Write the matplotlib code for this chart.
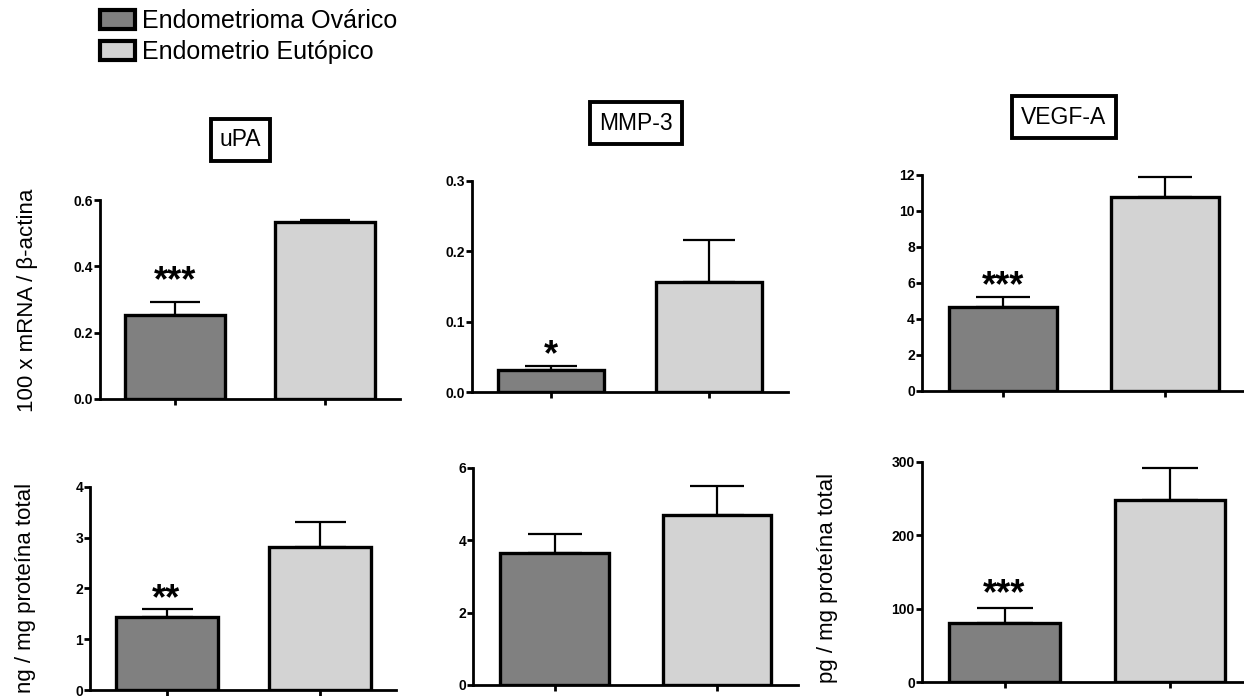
import numpy as np
import matplotlib
matplotlib.use('Agg')
import matplotlib.pyplot as plt
from matplotlib.patches import Patch
from matplotlib.ticker import FormatStrFormatter

plt.rcParams['font.family'] = ['Liberation Sans', 'DejaVu Sans']

# data (mean, upper SEM)
groups = ['Endometrioma Ovárico', 'Endometrio Eutópico']
panel_titles = ['uPA', 'MMP-3', 'VEGF-A', None, None, None]
mean_endometrioma = [0.253, 0.031, 4.68, 1.43, 3.64, 81]
sem_endometrioma = [0.039, 0.0066, 0.56, 0.16, 0.53, 19.6]
mean_eutopico = [0.535, 0.156, 10.8, 2.81, 4.70, 248]
sem_eutopico = [0.006, 0.060, 1.1, 0.50, 0.80, 43]
significance = ['***', '*', '***', '**', '', '***']
y_max = [0.6, 0.3, 12, 4, 6, 300]
y_step = [0.2, 0.1, 2, 1, 2, 100]
y_fmt = ['%.1f', '%.1f', '%d', '%d', '%d', '%d']

colors = ['#808080', '#d3d3d3']

fig = plt.figure(figsize=(12.44, 6.96), dpi=100)
W, H = 1244, 696

# axes boxes in pixels: left, top, right, bottom
boxes = [(100, 200, 400, 399), (472, 181, 788, 392.3), (921.7, 175, 1246.5, 391),
         (90, 486.7, 396, 690), (473.3, 467.7, 798.3, 685), (921.7, 461.7, 1253, 682.3)]
star_offsets = [30, 20, 20, 19, 20, 24]

for i, (l, t, r, b) in enumerate(boxes):
    ax = fig.add_axes([l / W, 1 - b / H, (r - l) / W, (b - t) / H])
    x = np.arange(2)
    means = [mean_endometrioma[i], mean_eutopico[i]]
    sems = [sem_endometrioma[i], sem_eutopico[i]]
    bar_px = (r - l) / 3
    ax.errorbar(x, means, yerr=[[0, 0], sems], fmt='none', ecolor='black',
                elinewidth=1.6, capsize=bar_px / 4 * 0.72, capthick=1.6, zorder=1)
    ax.bar(x, means, width=2 / 3, color=colors, edgecolor='black', linewidth=2.4, zorder=2)
    ax.set_xlim(-0.5, 1.5)
    ax.set_ylim(0, y_max[i])
    ax.set_yticks(np.arange(0, y_max[i] + y_step[i] / 2, y_step[i]))
    ax.yaxis.set_major_formatter(FormatStrFormatter(y_fmt[i]))
    ax.set_xticks(x)
    ax.set_xticklabels([])
    for s in ['top', 'right']:
        ax.spines[s].set_visible(False)
    for s in ['left', 'bottom']:
        ax.spines[s].set_linewidth(2)
    ax.tick_params(axis='y', width=2, length=4, pad=1, labelsize=10)
    ax.tick_params(axis='x', width=2, length=4.5)
    for lab in ax.get_yticklabels():
        lab.set_fontweight('bold')
    ax.patch.set_alpha(0)
    if significance[i]:
        ax.annotate(significance[i], (0, means[0] + sems[0]),
                    xytext=(0, star_offsets[i] * 0.72 - 14), textcoords='offset points',
                    ha='center', va='baseline', fontsize=26, fontweight='bold')

# panel titles in boxes
title_pos = [(240.5, 140), (636, 123), (1064, 117)]
for name, (px, py) in zip(panel_titles[:3], title_pos):
    fig.text(px / W, 1 - py / H, name, ha='center', va='center', fontsize=16.5,
             bbox=dict(boxstyle='square,pad=0.4', facecolor='white',
                       edgecolor='black', linewidth=2.8))

# y labels
fig.text(28 / W, 1 - 300 / H, '100 x mRNA / β-actina', rotation=90,
         ha='center', va='center', fontsize=16)
fig.text(26 / W, 1 - 588 / H, 'ng / mg proteína total', rotation=90,
         ha='center', va='center', fontsize=16)
fig.text(828 / W, 1 - 578 / H, 'pg / mg proteína total', rotation=90,
         ha='center', va='center', fontsize=16)

handles = [Patch(facecolor=c, edgecolor='black', linewidth=3) for c in colors]
fig.legend(handles, groups, loc='upper left', bbox_to_anchor=(100 / W, 1 - 9 / H),
           frameon=False, fontsize=18, borderpad=0, borderaxespad=0,
           handlelength=1.4, handleheight=0.8, handletextpad=0.3, labelspacing=0.28)

fig.savefig('out.png', dpi=100)
